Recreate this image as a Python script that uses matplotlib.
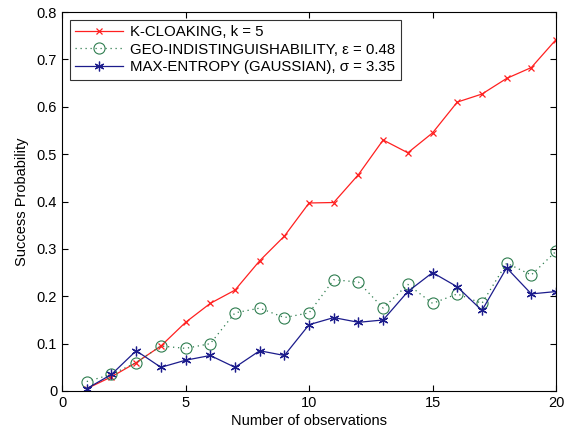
import matplotlib
matplotlib.use("Agg")
import matplotlib.pyplot as plt

plt.rcParams['font.family'] = ['Liberation Sans', 'DejaVu Sans']

observations = list(range(1, 21))
k_cloaking = [0.005, 0.03, 0.06, 0.095, 0.145, 0.185, 0.213, 0.275, 0.327, 0.397,
              0.398, 0.457, 0.53, 0.503, 0.545, 0.61, 0.627, 0.66, 0.683, 0.742]
geo_indist = [0.02, 0.035, 0.06, 0.095, 0.09, 0.10, 0.165, 0.175, 0.155, 0.165,
              0.235, 0.23, 0.175, 0.225, 0.185, 0.205, 0.185, 0.27, 0.245, 0.295]
max_entropy = [0.005, 0.035, 0.085, 0.05, 0.065, 0.075, 0.05, 0.085, 0.075, 0.14,
               0.155, 0.145, 0.15, 0.21, 0.25, 0.22, 0.17, 0.26, 0.205, 0.21]

fig = plt.figure(figsize=(5.75, 4.33), dpi=100)
ax = fig.add_axes([0.108, 0.097, 0.859, 0.875])

ax.plot(observations, k_cloaking, color='#ff2020', lw=0.9, marker='x', ms=5,
        mew=0.9, label='K-CLOAKING, k = 5')
ax.plot(observations, geo_indist, color='#2e7d4f', lw=0.9, ls=(0, (1, 3)),
        marker='o', ms=8, mfc='none', mew=0.8,
        label='GEO-INDISTINGUISHABILITY, \u03b5 = 0.48')
ax.plot(observations, max_entropy, color='#1c1c8c', lw=0.9, marker=(6, 2, 0),
        ms=7, mew=0.9, label='MAX-ENTROPY (GAUSSIAN), \u03c3 = 3.35')

ax.set_xlim(0, 20)
ax.set_ylim(0, 0.8)
ax.set_xticks([0, 5, 10, 15, 20])
ax.set_yticks([0, 0.1, 0.2, 0.3, 0.4, 0.5, 0.6, 0.7, 0.8])
ax.set_yticklabels(['0', '0.1', '0.2', '0.3', '0.4', '0.5', '0.6', '0.7', '0.8'])
ax.tick_params(direction='in', top=True, right=True, length=4, labelsize=10.5,
               width=0.8)
for s in ax.spines.values():
    s.set_linewidth(0.8)

ax.set_xlabel('Number of observations', fontsize=10.5, labelpad=3)
ax.set_ylabel('Success Probability', fontsize=10.5, labelpad=6)

leg = ax.legend(loc='upper left', fontsize=10.8, frameon=True, fancybox=False,
                edgecolor='black', borderaxespad=0.5, handlelength=3.2,
                labelspacing=0.25, borderpad=0.35, handletextpad=0.5)
leg.get_frame().set_linewidth(0.8)

fig.savefig('out.png', dpi=100)
